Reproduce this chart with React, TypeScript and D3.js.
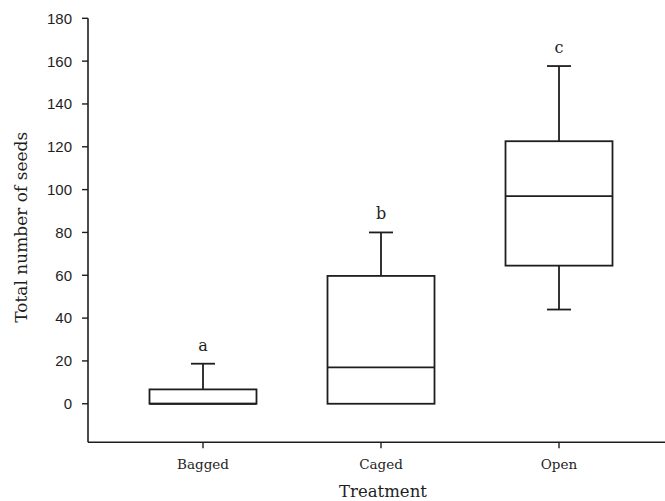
import React from "react";
import * as d3 from "d3";

const categories = ["Bagged", "Caged", "Open"];
const whiskerLow = [0, 0, 44];
const q1 = [0, 0, 64.5];
const median = [0, 17, 97];
const q3 = [6.7, 59.7, 122.6];
const whiskerHigh = [18.7, 80, 157.7];
const letters = ["a", "b", "c"];
const yTicks = [0, 20, 40, 60, 80, 100, 120, 140, 160, 180];

const W = 665;
const H = 501;
const INK = "#1e1e1e";
const SERIF = "'DejaVu Serif', serif";
const SANS = "'Liberation Sans', Arial, sans-serif";

export default function App() {
  const y = d3.scaleLinear().domain([-18, 180]).range([442.3, 18.3]);
  const x = d3.scalePoint<string>().domain(categories).range([88, 674]).padding(0.646);
  const boxW = 107;
  const capW = 24;
  const left = 88;
  const bottom = y(-18);

  return (
    <svg width={W} height={H} style={{ position: "absolute", left: 0, top: 0, background: "#fff" }}>
      <rect x={0} y={0} width={W} height={H} fill="#fff" />
      {/* axes */}
      <line x1={left} x2={left} y1={y(180)} y2={bottom} stroke={INK} strokeWidth={1.6} />
      <line x1={left} x2={W} y1={bottom} y2={bottom} stroke={INK} strokeWidth={1.6} />
      {yTicks.map((t) => (
        <g key={t}>
          <line x1={left - 6} x2={left} y1={y(t)} y2={y(t)} stroke={INK} strokeWidth={1.4} />
          <text x={left - 16} y={y(t)} dy="0.36em" textAnchor="end" fontFamily={SANS} fontSize={15} fill={INK}>
            {t}
          </text>
        </g>
      ))}
      {categories.map((c) => (
        <g key={c}>
          <line x1={x(c)!} x2={x(c)!} y1={bottom} y2={bottom + 6} stroke={INK} strokeWidth={1.4} />
          <text x={x(c)!} y={bottom + 27} textAnchor="middle" fontFamily={SERIF} fontSize={13.5} fill={INK}>
            {c}
          </text>
        </g>
      ))}
      {/* boxes */}
      {categories.map((c, i) => {
        const cx = x(c)!;
        return (
          <g key={"b" + c} stroke={INK} strokeWidth={1.8} fill="none">
            <line x1={cx} x2={cx} y1={y(q3[i])} y2={y(whiskerHigh[i])} />
            <line x1={cx - capW / 2} x2={cx + capW / 2} y1={y(whiskerHigh[i])} y2={y(whiskerHigh[i])} />
            {whiskerLow[i] < q1[i] && (
              <>
                <line x1={cx} x2={cx} y1={y(q1[i])} y2={y(whiskerLow[i])} />
                <line x1={cx - capW / 2} x2={cx + capW / 2} y1={y(whiskerLow[i])} y2={y(whiskerLow[i])} />
              </>
            )}
            <rect x={cx - boxW / 2} y={y(q3[i])} width={boxW} height={y(q1[i]) - y(q3[i])} fill="#fff" />
            <line x1={cx - boxW / 2} x2={cx + boxW / 2} y1={y(median[i])} y2={y(median[i])} />
            <text
              x={cx}
              y={y(whiskerHigh[i]) - 13}
              textAnchor="middle"
              fontFamily={SERIF}
              fontSize={16}
              fill={INK}
              stroke="none"
            >
              {letters[i]}
            </text>
          </g>
        );
      })}
      <text x={383} y={497} textAnchor="middle" fontFamily={SERIF} fontSize={16.5} fill={INK}>
        Treatment
      </text>
      <text
        transform={`translate(27, ${(y(180) + bottom) / 2 - 3}) rotate(-90)`}
        textAnchor="middle"
        fontFamily={SERIF}
        fontSize={17}
        fill={INK}
      >
        Total number of seeds
      </text>
    </svg>
  );
}
